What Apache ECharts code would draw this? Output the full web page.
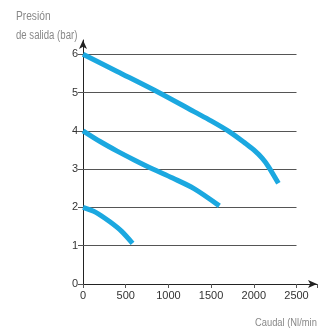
<!DOCTYPE html>
<html><head><meta charset="utf-8">
<script src="https://cdn.jsdelivr.net/npm/echarts@6/dist/echarts.min.js"></script>
<style>html,body{margin:0;padding:0;background:#fff}#c{width:320px;height:331px}</style>
</head><body><div id="c"></div>
<script>
const gridLevels = [1, 2, 3, 4, 5, 6];
const gridEnd = 2500;
const curveHigh = [[0,6],[400,5.55],[887,5],[1300,4.5],[1500,4.26],[1712,3.98],[1904,3.67],[2000,3.5],[2100,3.28],[2173,3.06],[2288,2.63]];
const curveMid = [[0,4],[200,3.72],[400,3.47],[600,3.24],[810,3.01],[1050,2.765],[1300,2.49],[1597,2.04]];
const curveLow = [[0,2],[150,1.87],[311,1.63],[450,1.38],[580,1.06]];
const xTicks = [0, 500, 1000, 1500, 2000, 2500];
const yTitle = ['Presión', 'de salida (bar)'];
const xTitle = 'Caudal (Nl/min';

const chart = echarts.init(document.getElementById('c'));
const font = '"Liberation Sans Narrow", "Liberation Sans", Arial, sans-serif';
const blue = '#1BA8E0';
function curve(d){return {type:'line',data:d,smooth:0.3,symbol:'none',lineStyle:{color:blue,width:5,cap:'butt'},z:5};}
chart.setOption({
  animation:false,
  grid:{left:83,top:40,width:238,height:244},
  xAxis:{type:'value',min:0,max:2740,interval:500,
    axisLine:{lineStyle:{color:'#222',width:1},symbol:['none','arrow'],symbolSize:[6,9]},
    axisTick:{show:true,length:4,lineStyle:{color:'#555'}},
    axisLabel:{color:'#333',fontFamily:font,fontSize:11,margin:6,
      formatter:v=>xTicks.includes(v)?String(v):''},
    splitLine:{show:false}},
  yAxis:{type:'value',min:0,max:6.37,interval:1,
    axisLine:{show:true,lineStyle:{color:'#222',width:1},symbol:['none','arrow'],symbolSize:[6,9]},
    axisTick:{show:true,length:5,lineStyle:{color:'#555'}},
    axisLabel:{color:'#333',fontFamily:font,fontSize:11,margin:5,showMaxLabel:false,
      formatter:v=>Number.isInteger(v)?String(v):''},
    splitLine:{show:false}},
  graphic:[
    {type:'text',left:16,top:11,scaleX:0.85,style:{text:yTitle[0],fill:'#888',font:'12px '+font}},
    {type:'text',left:16,top:30,scaleX:0.8,style:{text:yTitle[1],fill:'#888',font:'12px '+font}},
    {type:'text',left:255,top:317,scaleX:0.85,style:{text:xTitle,fill:'#888',font:'11px '+font}}
  ],
  series:[
    {type:'line',data:[],markLine:{silent:true,symbol:'none',label:{show:false},
      lineStyle:{color:'#555',width:1,type:'solid'},
      data:gridLevels.map(y=>[{coord:[0,y]},{coord:[gridEnd,y]}])}},
    curve(curveHigh),curve(curveMid),curve(curveLow)
  ]
});
</script></body></html>
